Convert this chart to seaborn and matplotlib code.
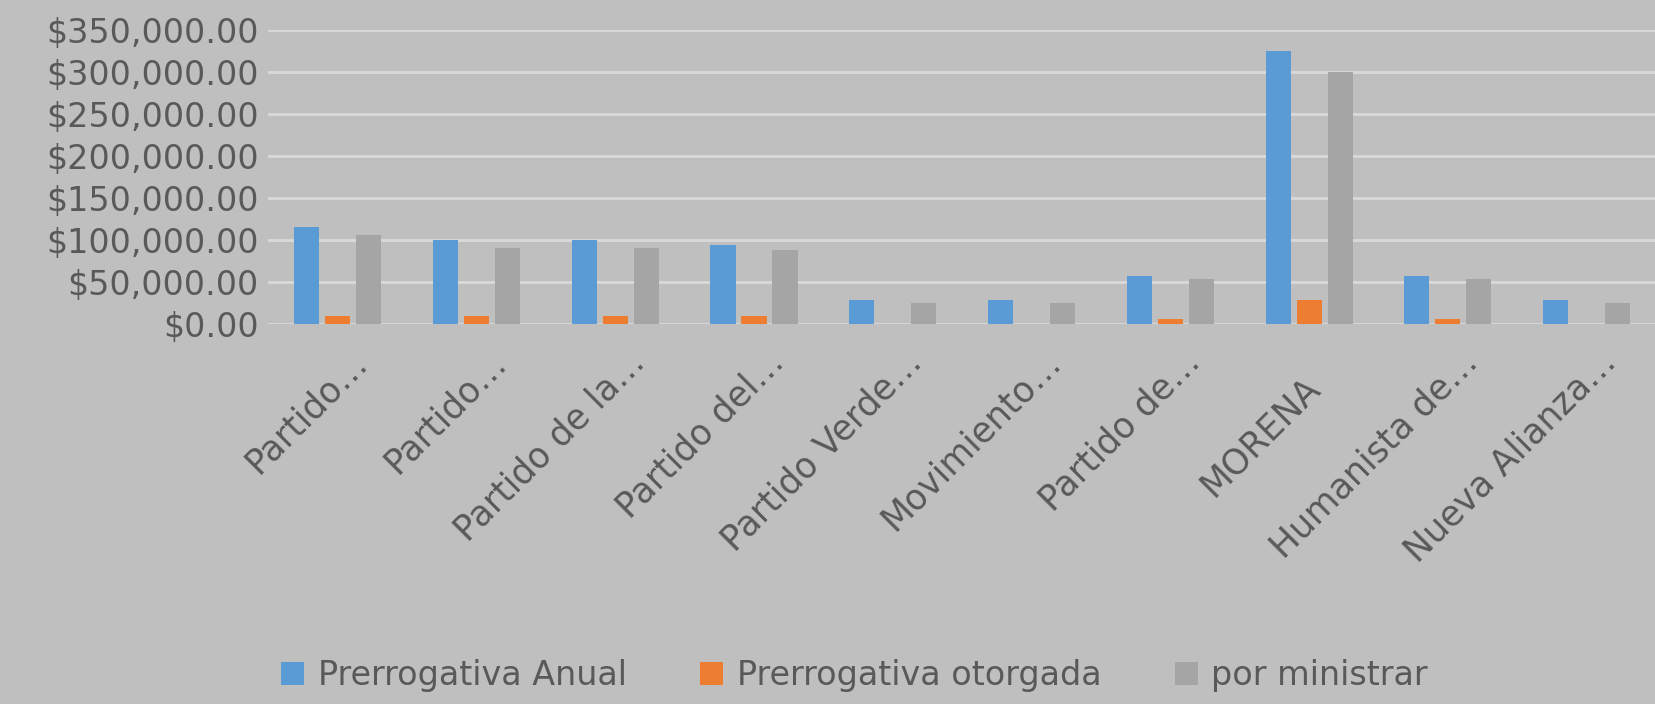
import numpy as np
import pandas as pd
import matplotlib
matplotlib.use('Agg')
import matplotlib.pyplot as plt
import matplotlib.transforms as mtransforms
import seaborn as sns
from matplotlib.ticker import FuncFormatter

# Partidos (etiquetas truncadas como en la grafica original)
partidos = ['Partido…', 'Partido…', 'Partido de la…', 'Partido del…',
            'Partido Verde…', 'Movimiento…', 'Partido de…', 'MORENA',
            'Humanista de…', 'Nueva Alianza…']

series = ['Prerrogativa Anual', 'Prerrogativa otorgada', 'por ministrar']

anual = [115500, 100400, 100400, 93600, 28100, 28100, 56700, 325000, 56700, 28100]
otorgada = [9500, 9500, 9500, 9500, 0, 0, 6300, 28100, 6300, 0]
ministrar = [106300, 90800, 90800, 87600, 25000, 25000, 53600, 300000, 53600, 25000]

yticks = [0, 50000, 100000, 150000, 200000, 250000, 300000, 350000]

colors = ['#5b9bd5', '#ed7d31', '#a5a5a5']
BG = '#bfbfbf'
TXT = '#595959'

rows = []
for i in range(len(partidos)):
    for name, vals in zip(series, [anual, otorgada, ministrar]):
        rows.append({'pos': i, 'serie': name, 'monto': vals[i]})
df = pd.DataFrame(rows)

sns.set_style('white')
plt.rcParams['font.family'] = ['DejaVu Sans']

fig = plt.figure(figsize=(16.56, 7.04), dpi=100, facecolor=BG)
ax = fig.add_axes([0.162, 0.54, 0.838, 0.417])
ax.set_facecolor(BG)

sns.barplot(data=df, x='pos', y='monto', hue='serie', hue_order=series,
            palette=colors, width=0.67, gap=0.19, saturation=1,
            linewidth=0, errorbar=None, ax=ax, zorder=3)

ax.set_ylim(0, 350000)
ax.set_xlim(-0.5, len(partidos) - 0.5)
ax.set_yticks(yticks)
ax.yaxis.set_major_formatter(FuncFormatter(lambda v, p: f'${v:,.2f}'))
ax.grid(axis='y', color='#d9d9d9', linewidth=2, zorder=0)
ax.set_axisbelow(True)
for s in ax.spines.values():
    s.set_visible(False)

ax.set_xticks(range(len(partidos)))
ax.set_xticklabels(partidos, rotation=45, ha='right', va='baseline',
                   rotation_mode='anchor', color=TXT, fontsize=25)
ax.tick_params(axis='x', length=0, pad=0)
ax.tick_params(axis='y', length=0, pad=7, labelsize=24, labelcolor=TXT)
ax.set_xlabel('')
ax.set_ylabel('')

# shift rotated labels (pixels) so their ends sit like in the original
for lab in ax.get_xticklabels():
    if lab.get_text().endswith('…'):
        dx, dy = 31, 40
    else:
        dx, dy = 12, 66
    off = mtransforms.ScaledTranslation(dx / 100, -dy / 100, fig.dpi_scale_trans)
    lab.set_transform(lab.get_transform() + off)

ax.legend_.remove()
handles, labels = ax.get_legend_handles_labels()
leg = fig.legend(handles, labels, loc='center', bbox_to_anchor=(0.516, 0.04),
                 ncol=3, frameon=False, fontsize=24, handlelength=0.7,
                 handleheight=0.7, handletextpad=0.4, columnspacing=2.2)
for t in leg.get_texts():
    t.set_color(TXT)

fig.savefig('out.png', dpi=100, facecolor=BG)
